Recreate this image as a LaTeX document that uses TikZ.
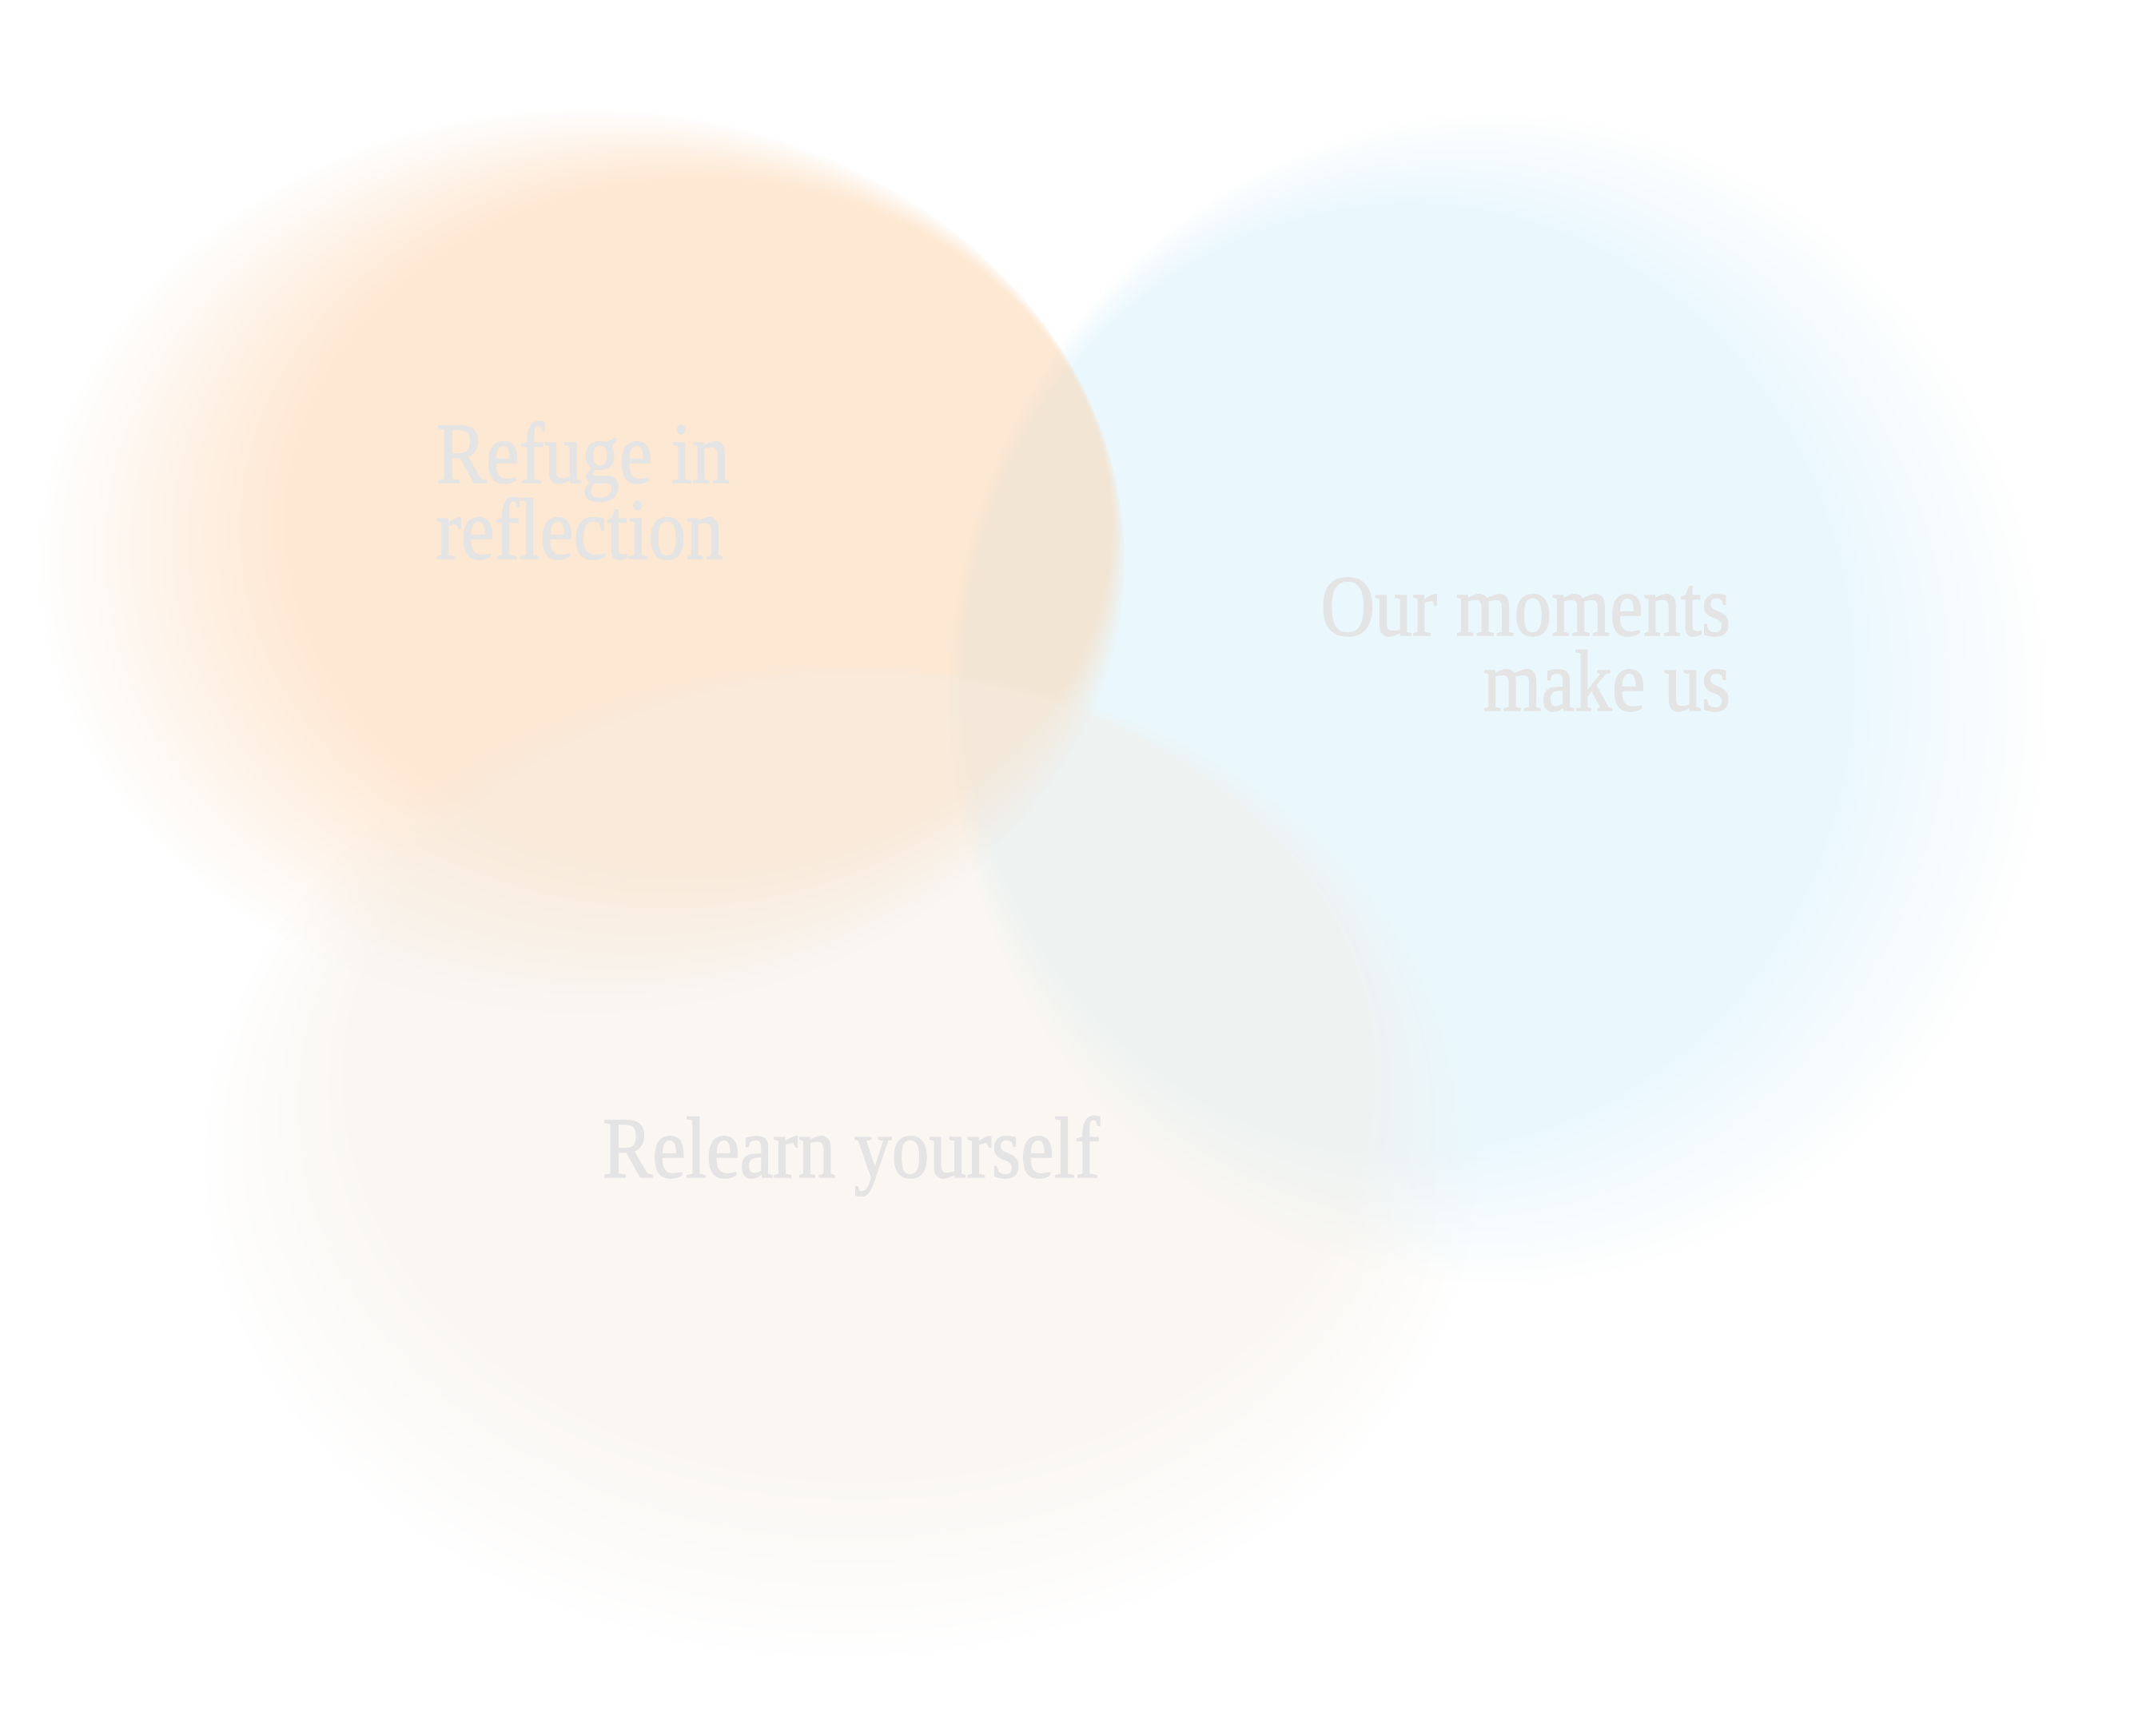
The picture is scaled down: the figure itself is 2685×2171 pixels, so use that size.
\documentclass[tikz,border=0pt]{standalone}
\usepackage{fontspec}
\newfontfamily\labelfont{Liberation Serif}[FakeStretch=0.86,FakeBold=1.2]
\usetikzlibrary{fadings}
\definecolor{blobBlue}{RGB}{234,248,254}
\definecolor{blobOrange}{RGB}{253,211,169}
\definecolor{blobCream}{RGB}{244,237,228}
\definecolor{labelGray}{RGB}{228,228,228}
\pgfdeclareradialshading{shOrange}{\pgfpoint{22bp}{9bp}}{color(0bp)=(pgftransparent!0); color(19bp)=(pgftransparent!0); color(25bp)=(pgftransparent!100)}
\pgfdeclareradialshading{shBlue}{\pgfpoint{-21bp}{5bp}}{color(0bp)=(pgftransparent!0); color(20bp)=(pgftransparent!0); color(25bp)=(pgftransparent!100)}
\pgfdeclareradialshading{shCream}{\pgfpoint{4bp}{22bp}}{color(0bp)=(pgftransparent!0); color(20bp)=(pgftransparent!0); color(25bp)=(pgftransparent!100)}
\pgfdeclarefading{fadeOrange}{\pgfuseshading{shOrange}}
\pgfdeclarefading{fadeBlue}{\pgfuseshading{shBlue}}
\pgfdeclarefading{fadeCream}{\pgfuseshading{shCream}}
\tikzset{
  lbl/.style={text=labelGray, inner sep=0pt, font=\labelfont\fontsize{31}{27}\selectfont},
}
\begin{document}
\begin{tikzpicture}[x=0.01cm, y=-0.01cm]
\useasboundingbox (0,0) rectangle (2685,2171);
\fill[white] (0,0) rectangle (2685,2171);
% blobs
\fill[blobBlue, path fading=fadeBlue] (1872,875) ellipse [x radius=685, y radius=730];
\fill[blobOrange, opacity=0.5, path fading=fadeOrange] (729,702) ellipse [x radius=678, y radius=565];
\fill[blobCream, opacity=0.43, path fading=fadeCream] (1053,1452) ellipse [x radius=796, y radius=620];
% labels
\node[lbl, anchor=base west] (refugeA) at (545,604) {Refuge in};
\node[lbl, anchor=base west] (refugeB) at (545,699) {reflection};
\node[lbl, anchor=base east] (momentsA) at (2166,795) {Our moments};
\node[lbl, anchor=base east] (momentsB) at (2166,889) {make us};
\node[lbl, anchor=base west] (relearn) at (753,1473) {Relearn yourself};
\end{tikzpicture}
\end{document}
